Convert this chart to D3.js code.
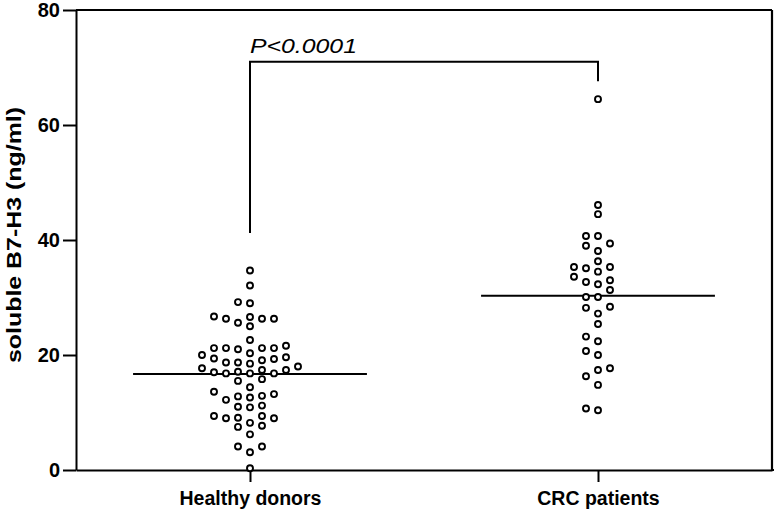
<!DOCTYPE html>
<html>
<head>
<meta charset="utf-8">
<script src="https://cdn.jsdelivr.net/npm/d3@7"></script>
<style>
  html, body { margin: 0; padding: 0; background: #fff; }
  svg { display: block; font-family: "Liberation Sans", Arial, Helvetica, sans-serif; }
</style>
</head>
<body>
<div id="chart"></div>
<script>
const categories = ["Healthy donors", "CRC patients"];

const healthy = [
  34.7, 32.1, 29.2, 29.0,
  26.7, 26.3, 26.3, 25.0, 25.6, 26.3, 26.6,
  22.6,
  21.2, 21.2, 21.0, 20.0, 20.3, 21.2, 21.2, 21.6,
  19.6, 19.1, 18.7, 18.0, 18.5, 18.7, 19.3, 19.4,
  17.1, 16.8, 17.7, 16.8, 17.4, 17.0, 16.8, 17.4,
  15.5, 15.8,
  14.4, 12.8, 13.2, 12.9, 13.6, 12.2, 12.6,
  11.2, 10.9, 11.0,
  9.4, 9.1, 9.0, 7.7, 8.2, 9.0, 7.5, 9.4,
  6.2,
  4.1, 3.1, 4.1,
  0.3
];

const crc = [
  64.5,
  46.1, 44.5,
  40.7, 40.7, 39.4, 39.0, 38.1,
  36.3, 35.3, 35.1, 34.5, 35.3,
  33.0, 32.3, 33.6, 32.7, 31.3,
  30.1, 30.1,
  28.2, 28.4, 27.2, 25.4,
  22.4, 23.2, 20.7, 20.0,
  16.3, 17.4, 17.7, 14.8,
  10.4, 10.7
];

const medians = [16.7, 30.3];
const yTicks = [0, 20, 40, 60, 80];
const bracketTop = 71;
const bracketEnds = [41.2, 67.6];
const pLabel = "P<0.0001";
const yLabel = "soluble B7-H3 (ng/ml)";

const W = 774, H = 513;
const margin = { top: 10, right: 2, bottom: 43, left: 76 };
const innerW = W - margin.left - margin.right;   // 696
const innerH = H - margin.top - margin.bottom;   // 460

const svg = d3.select("#chart").append("svg")
    .attr("width", W)
    .attr("height", H);

const g = svg.append("g")
    .attr("transform", `translate(${margin.left},${margin.top})`);

const x = d3.scalePoint()
    .domain(categories)
    .range([0, innerW])
    .padding(0.5);

const y = d3.scaleLinear()
    .domain([0, 80])
    .range([innerH, 0]);

// simple column dodge: sort by value, fill slots 0,-1,+1,-2,+2...
function dodge(values, slotW, minDy) {
    const placed = [];
    const sorted = values.slice().sort((a, b) => a - b);
    sorted.forEach(v => {
        const py = y(v);
        for (let k = 0; k < 40; k++) {
            const slot = k === 0 ? 0 : (k % 2 ? -(k + 1) / 2 : k / 2);
            const hit = placed.some(p => p.slot === slot && Math.abs(p.py - py) < minDy);
            if (!hit) { placed.push({ v, py, slot, dx: slot * slotW }); break; }
        }
    });
    return placed;
}

const groups = [healthy, crc];

// frame (top and right)
g.append("line")
    .attr("x1", 0).attr("x2", innerW)
    .attr("y1", 0).attr("y2", 0)
    .attr("stroke", "#000").attr("stroke-width", 2);
g.append("line")
    .attr("x1", innerW).attr("x2", innerW)
    .attr("y1", 0).attr("y2", innerH)
    .attr("stroke", "#000").attr("stroke-width", 2.2);

// y axis
const yAxis = g.append("g")
    .call(d3.axisLeft(y).tickValues(yTicks).tickSize(13).tickSizeOuter(0).tickPadding(3));
yAxis.select(".domain").attr("stroke-width", 2);
yAxis.selectAll(".tick line").attr("stroke-width", 2);
yAxis.selectAll(".tick text")
    .attr("font-size", 20).attr("font-weight", "bold").attr("fill", "#000")
    .attr("font-family", "Liberation Sans, Arial, sans-serif");

// x axis
const xAxis = g.append("g")
    .attr("transform", `translate(0,${innerH})`)
    .call(d3.axisBottom(x).tickSize(12).tickSizeOuter(0).tickPadding(9));
xAxis.select(".domain").attr("stroke-width", 2);
xAxis.selectAll(".tick line").attr("stroke-width", 2);
xAxis.selectAll(".tick text")
    .attr("font-size", 19.5).attr("font-weight", "bold").attr("fill", "#000")
    .attr("font-family", "Liberation Sans, Arial, sans-serif");
xAxis.append("line")
    .attr("x1", innerW - 1).attr("x2", innerW + 2)
    .attr("stroke", "#000").attr("stroke-width", 2);

// y label
svg.append("text")
    .attr("transform", `translate(21,${margin.top + 225}) rotate(-90)`)
    .attr("text-anchor", "middle")
    .attr("font-size", 20)
    .attr("font-weight", "bold")
    .attr("textLength", 256)
    .attr("lengthAdjust", "spacingAndGlyphs")
    .text(yLabel);

// median lines
const halfW = x.step() * 0.336;
g.selectAll(".median")
    .data(medians)
    .join("line")
    .attr("class", "median")
    .attr("x1", (d, i) => x(categories[i]) - halfW)
    .attr("x2", (d, i) => x(categories[i]) + halfW)
    .attr("y1", d => y(d))
    .attr("y2", d => y(d))
    .attr("stroke", "#000")
    .attr("stroke-width", 2);

// dots
groups.forEach((vals, i) => {
    const pts = dodge(vals, 12, 9);
    g.append("g").selectAll("circle")
        .data(pts)
        .join("circle")
        .attr("cx", d => x(categories[i]) + d.dx)
        .attr("cy", d => y(d.v))
        .attr("r", 3.0)
        .attr("fill", "#fff")
        .attr("stroke", "#000")
        .attr("stroke-width", 1.9);
});

// significance bracket
const bx0 = x(categories[0]), bx1 = x(categories[1]);
g.append("path")
    .attr("d", `M${bx0},${y(bracketEnds[0])}V${y(bracketTop)}H${bx1}V${y(bracketEnds[1])}`)
    .attr("fill", "none")
    .attr("stroke", "#000")
    .attr("stroke-width", 2);

g.append("text")
    .attr("x", bx0)
    .attr("y", y(bracketTop) - 9)
    .attr("font-size", 20)
    .attr("font-style", "italic")
    .attr("textLength", 107)
    .attr("lengthAdjust", "spacingAndGlyphs")
    .text(pLabel);
</script>
</body>
</html>
